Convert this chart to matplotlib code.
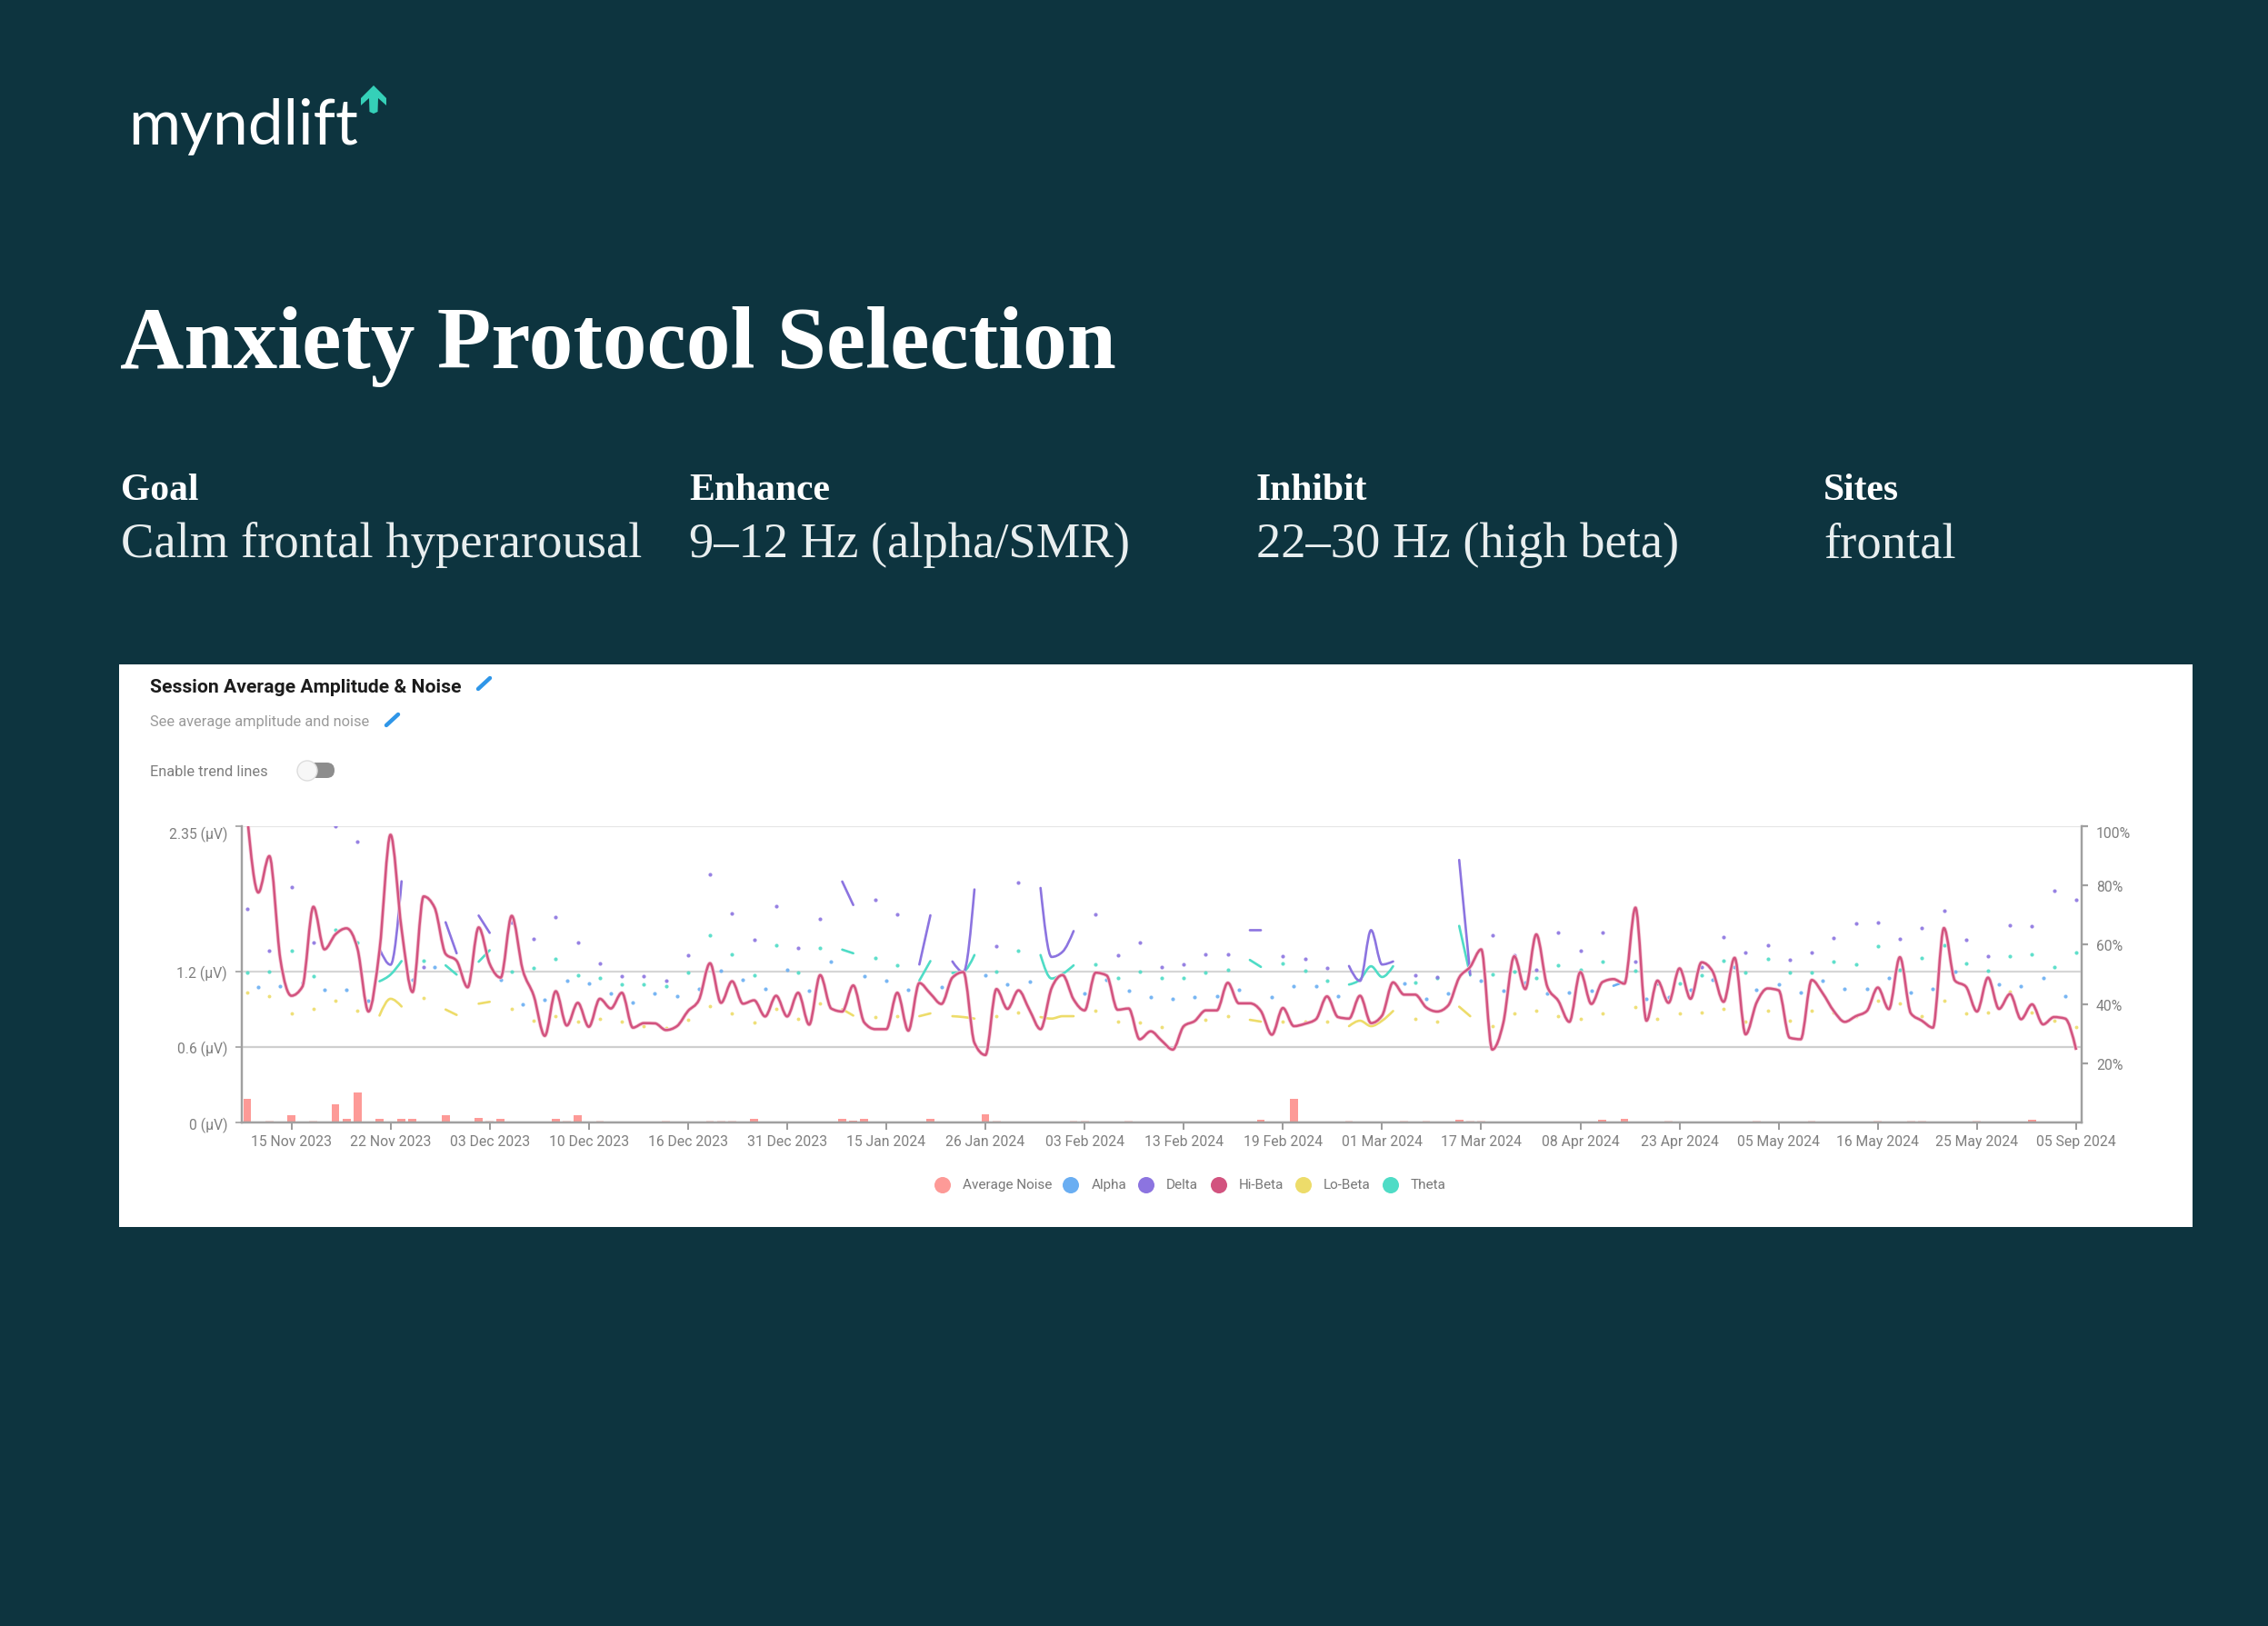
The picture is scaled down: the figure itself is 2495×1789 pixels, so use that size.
import numpy as np
import matplotlib
matplotlib.use("Agg")
import matplotlib.pyplot as plt
from matplotlib.path import Path
from matplotlib.patches import PathPatch, Rectangle, Polygon, FancyBboxPatch, Circle

W, H = 2495, 1790

BG = "#0d343f"
NOISE = "#fd9a97"
ALPHA = "#6aaef2"
DELTA = "#8c74e0"
HIBETA = "#d2537f"
LOBETA = "#eddc6a"
THETA = "#4fdcc6"

date_labels = ["15 Nov 2023", "22 Nov 2023", "03 Dec 2023", "10 Dec 2023", "16 Dec 2023",
               "31 Dec 2023", "15 Jan 2024", "26 Jan 2024", "03 Feb 2024", "13 Feb 2024",
               "19 Feb 2024", "01 Mar 2024", "17 Mar 2024", "08 Apr 2024", "23 Apr 2024",
               "05 May 2024", "16 May 2024", "25 May 2024", "05 Sep 2024"]
date_idx = [4, 13, 22, 31, 40, 49, 58, 67, 76, 85, 94, 103, 112, 121, 130, 139, 148, 157, 166]

left_ticks = [0, 0.6, 1.2, 2.35]
left_labels = ["0 (µV)", "0.6 (µV)", "1.2 (µV)", "2.35 (µV)"]
right_ticks = [20, 40, 60, 80, 100]
right_labels = ["20%", "40%", "60%", "80%", "100%"]

# hi-beta has a value for every session
hibeta = [2.42, 1.824, 2.113, 1.294, 1.005, 1.077, 1.711, 1.373, 1.492, 1.54,
          1.378, 0.88, 1.366, 2.282, 1.535, 1.034, 1.793, 1.704, 1.337, 1.282,
          1.072, 1.547, 1.258, 1.149, 1.639, 1.21, 1.005, 0.687, 1.041, 0.769,
          0.949, 0.759, 0.981, 0.904, 1.029, 0.752, 0.788, 0.786, 0.733, 0.764,
          0.884, 0.973, 1.263, 0.949, 1.12, 0.942, 0.969, 0.841, 1.005, 0.841,
          1.029, 0.776, 1.169, 0.904, 0.88, 1.087, 0.793, 0.74, 0.74, 1.029,
          0.728, 1.106, 1.022, 0.94, 1.149, 1.193, 0.631, 0.535, 1.058, 0.901,
          1.048, 0.892, 0.74, 1.065, 1.169, 0.976, 0.889, 1.188, 1.166, 0.894,
          0.904, 0.66, 0.723, 0.648, 0.578, 0.764, 0.805, 0.889, 0.889, 1.108,
          0.945, 0.945, 0.884, 0.696, 0.908, 0.764, 0.783, 0.819, 1.0, 0.836,
          0.824, 1.005, 0.788, 0.848, 1.111, 1.014, 1.014, 0.913, 0.88, 0.928,
          1.149, 1.234, 1.373, 0.578, 0.788, 1.318, 1.058, 1.492, 1.077, 0.964,
          0.798, 1.193, 0.94, 1.113, 1.137, 1.101, 1.704, 0.807, 1.125, 0.949,
          1.222, 0.981, 1.27, 1.198, 0.957, 1.306, 0.699, 0.952, 1.063, 1.048,
          0.672, 0.66, 1.13, 1.024, 0.884, 0.798, 0.843, 0.884, 1.07, 0.899,
          1.311, 0.865, 0.807, 0.752, 1.542, 1.125, 1.077, 0.88, 1.149, 0.901,
          1.019, 0.819, 0.937, 0.778, 0.836, 0.824, 0.576]

# delta, theta and lo-beta are only there for some sessions
band_idx = [0, 2, 4, 6, 8, 10, 12, 13, 14, 16, 18, 19, 21, 22,
            24, 26, 28, 30, 32, 34, 36, 38, 40, 42, 44, 46, 48, 50, 52,
            54, 55, 57, 59, 61, 62, 64, 65, 66, 68, 70, 72, 73, 74, 75,
            77, 79, 81, 83, 85, 87, 89, 91, 92, 94, 96, 98,
            100, 101, 102, 103, 104, 106, 108, 110, 111,
            113, 115, 117, 119, 121, 123, 126, 128, 130, 132, 134, 136, 138,
            140, 142, 144, 146, 148, 150, 152, 154, 156, 158, 160, 162, 164, 166]

delta = [1.696, 1.366, 1.865, 1.427, 2.349, 2.227, 1.378, 1.251, 1.913, 1.234, 1.588, 1.342, 1.641, 1.504,
         1.583, 1.455, 1.627, 1.427, 1.265, 1.157, 1.157, 1.125, 1.325, 1.969, 1.655, 1.446, 1.718, 1.386, 1.617,
         1.911, 1.725, 1.766, 1.648, 1.253, 1.643, 1.277, 1.193, 1.848, 1.398, 1.906, 1.86, 1.313, 1.354, 1.518,
         1.648, 1.325, 1.427, 1.234, 1.255, 1.335, 1.335, 1.525, 1.525, 1.316, 1.296, 1.224,
         1.241, 1.123, 1.525, 1.253, 1.277, 1.166, 1.154, 2.082, 1.173,
         1.487, 1.325, 1.214, 1.506, 1.366, 1.506, 1.275, 1.113, 1.21, 1.236, 1.467, 1.345, 1.405,
         1.287, 1.345, 1.465, 1.576, 1.586, 1.455, 1.545, 1.677, 1.446, 1.316, 1.566, 1.557, 1.836, 1.766]

theta = [1.186, 1.195, 1.366, 1.164, 1.525, 1.427, 1.12, 1.173, 1.28, 1.284, 1.246, 1.173, 1.275, 1.366,
         1.195, 1.224, 1.296, 1.166, 1.145, 1.094, 1.094, 1.084, 1.186, 1.487, 1.335, 1.166, 1.405, 1.186, 1.386,
         1.371, 1.342, 1.306, 1.246, 1.125, 1.28, 1.186, 1.198, 1.328, 1.195, 1.366, 1.328, 1.142, 1.178, 1.246,
         1.255, 1.145, 1.195, 1.145, 1.145, 1.186, 1.214, 1.289, 1.234, 1.265, 1.205, 1.125,
         1.094, 1.133, 1.239, 1.154, 1.239, 1.113, 1.149, 1.559, 1.166,
         1.173, 1.195, 1.145, 1.246, 1.214, 1.275, 1.205, 1.1, 1.106, 1.166, 1.284, 1.186, 1.294,
         1.186, 1.186, 1.275, 1.255, 1.395, 1.214, 1.306, 1.405, 1.265, 1.205, 1.316, 1.335, 1.234, 1.345]

lobeta = [1.034, 1.005, 0.865, 0.904, 0.966, 0.884, 0.848, 0.981, 0.92, 0.986, 0.896, 0.853, 0.942, 0.957,
          0.904, 0.805, 0.843, 0.802, 0.824, 0.802, 0.764, 0.752, 0.814, 0.923, 0.863, 0.793, 0.904, 0.824, 0.942,
          0.899, 0.848, 0.834, 0.843, 0.843, 0.865, 0.843, 0.836, 0.824, 0.843, 0.875, 0.836, 0.824, 0.843, 0.843,
          0.884, 0.802, 0.793, 0.754, 0.764, 0.812, 0.843, 0.814, 0.8, 0.802, 0.802, 0.802,
          0.764, 0.807, 0.764, 0.807, 0.884, 0.824, 0.802, 0.918, 0.843,
          0.764, 0.863, 0.884, 0.843, 0.824, 0.863, 0.913, 0.824, 0.863, 0.872, 0.904, 0.8, 0.884,
          0.805, 0.884, 0.872, 0.843, 0.966, 0.942, 0.843, 0.966, 0.865, 0.875, 1.041, 0.875, 0.805, 0.754]

alpha_idx = [1, 3, 5, 7, 9, 11, 15, 17, 23, 25, 27, 29, 31, 33, 35, 37, 39, 41, 43, 45, 47, 49, 51, 53,
             56, 58, 60, 63, 67, 69, 71, 76, 78, 80, 82, 84, 86, 88, 90, 93, 95, 97, 99,
             105, 107, 109, 112, 114, 116, 118, 120, 122, 124, 125, 127, 129, 131, 133, 135, 137, 139,
             141, 143, 145, 147, 149, 151, 153, 155, 159, 161, 163, 165]
alpha = [1.075, 1.084, 1.113, 1.055, 1.055, 0.964, 1.133, 1.236, 1.13, 0.935, 0.973, 1.125, 1.104, 1.024, 0.954,
         1.024, 1.002, 1.063, 1.205, 1.135, 1.063, 1.214, 1.043, 1.275,
         1.157, 1.125, 1.053, 1.075, 1.166, 1.094, 1.116, 1.024, 1.135, 1.043, 0.993, 0.983, 0.993, 1.005, 1.053,
         0.995, 1.084, 1.084, 1.005,
         1.104, 0.983, 1.024, 1.123, 1.043, 1.111, 1.024, 1.034, 1.043, 1.084, 1.116, 0.983, 0.993, 1.053, 1.135,
         1.234, 1.053, 1.094,
         1.034, 1.123, 1.063, 1.063, 1.145, 1.034, 1.063, 1.195, 1.094, 1.084, 1.145, 1.005]

noise_idx = [0, 2, 4, 6, 8, 9, 10, 12, 14, 15, 18, 21, 22, 23, 28, 29, 30, 32, 38, 42, 43, 44, 46,
             54, 55, 56, 62, 67, 68, 75, 76, 80, 92, 95, 100, 105, 107, 110, 111, 112,
             123, 125, 129, 137, 142, 148, 151, 152, 157, 162]
noise_pct = [7.9, 0.6, 2.5, 0.6, 6.0, 1.1, 10.0, 1.1, 1.1, 1.1, 2.5, 1.4, 0.6, 1.1, 1.2, 0.5, 2.5, 0.5, 0.5, 0.5, 0.5, 0.5, 1.2,
             1.2, 0.7, 1.2, 1.2, 2.8, 0.5, 0.5, 0.5, 0.5, 1.0, 7.9, 0.5, 0.5, 0.5, 1.0, 0.5, 0.5,
             1.0, 1.3, 0.5, 0.5, 0.5, 0.5, 0.5, 0.5, 0.5, 0.9]
# the very small bars are barely visible in the reference
noise_faint = 0.6

legend_names = ["Average Noise", "Alpha", "Delta", "Hi-Beta", "Lo-Beta", "Theta"]
legend_colors = [NOISE, ALPHA, DELTA, HIBETA, LOBETA, THETA]
legend_dot_x = [1037, 1178, 1261, 1341, 1434, 1530]
legend_text_x = [1059, 1201, 1283, 1363, 1456, 1552]

heads = ["Goal", "Enhance", "Inhibit", "Sites"]
bodies = ["Calm frontal hyperarousal", "9–12 Hz (alpha/SMR)", "22–30 Hz (high beta)", "frontal"]
col_x = [133, 758, 1382, 2006]


def monotone_path(x, y):
    # same idea as d3 curveMonotoneX
    x = np.asarray(x, float)
    y = np.asarray(y, float)
    s = np.diff(y) / np.diff(x)
    t = np.zeros(len(x))
    for i in range(1, len(x) - 1):
        t[i] = (np.sign(s[i - 1]) + np.sign(s[i])) * min(abs(s[i - 1]), abs(s[i]), 0.25 * abs(s[i - 1] + s[i]))
    if len(x) > 2:
        t[0] = (3 * s[0] - t[1]) / 2
        t[-1] = (3 * s[-1] - t[-2]) / 2
    else:
        t[:] = s[0]
    verts = [(x[0], y[0])]
    codes = [Path.MOVETO]
    for i in range(len(x) - 1):
        h = (x[i + 1] - x[i]) / 3
        verts += [(x[i] + h, y[i] + h * t[i]), (x[i + 1] - h, y[i + 1] - h * t[i + 1]), (x[i + 1], y[i + 1])]
        codes += [Path.CURVE4] * 3
    return Path(verts, codes)


def draw_series(ax, idx, vals, color, lw=1.9, dot=9):
    # sessions next to each other get joined, lone sessions are a dot
    idx = list(idx)
    start = 0
    for i in range(1, len(idx) + 1):
        if i == len(idx) or idx[i] != idx[i - 1] + 1:
            if i - start == 1:
                ax.scatter(idx[start], vals[start], s=dot, color=color, linewidths=0, alpha=0.9, zorder=3)
            else:
                ax.add_patch(PathPatch(monotone_path(idx[start:i], vals[start:i]), fill=False,
                                       edgecolor=color, lw=lw, capstyle="round", zorder=3))
            start = i


fig = plt.figure(figsize=(W / 100, H / 100), dpi=100, facecolor=BG)

# page layer, works in pixels of the picture
page = fig.add_axes([0, 0, 1, 1], zorder=0)
page.set_xlim(0, W)
page.set_ylim(H, 0)
page.axis("off")

page.add_patch(Rectangle((131, 732), 2281, 619, facecolor="white", edgecolor="none"))

page.text(141, 159, "myndlift", family="Lato", fontsize=50, color="white", va="baseline")
page.add_patch(Polygon([(411, 95), (425, 109), (425, 117), (416, 109), (415.5, 124), (411, 126),
                        (406.5, 124), (406, 109), (397, 117), (397, 109)], facecolor="#35d0b8", edgecolor="none"))

page.text(132, 405, "Anxiety Protocol Selection", family="Liberation Serif", weight="bold",
          fontsize=70, color="white", va="baseline")
for x, head, body in zip(col_x, heads, bodies):
    page.text(x, 550, head, family="Liberation Serif", weight="bold", fontsize=30, color="white", va="baseline")
    page.text(x, 613, body, family="Liberation Serif", fontsize=39.3, color="#e8eeef", va="baseline")

page.text(165, 762, "Session Average Amplitude & Noise", family="Roboto", weight="bold", fontsize=15.2,
          color="#1c1c1c", va="baseline")
page.text(165, 799, "See average amplitude and noise", family="Roboto", fontsize=11.8, color="#9a9a9a", va="baseline")
page.text(165, 854, "Enable trend lines", family="Roboto", fontsize=11.8, color="#7d7d7d", va="baseline")
for x0, y0 in [(524, 761), (423, 801)]:
    page.plot([x0 + 2, x0 + 15], [y0 - 2, y0 - 14], color="#2f96e8", lw=3.2, solid_capstyle="round")

page.add_patch(FancyBboxPatch((337, 840), 31, 17, boxstyle="round,pad=0,rounding_size=8.5",
                              facecolor="#8d8d8d", edgecolor="none"))
page.add_patch(Circle((338, 849), 11, facecolor="#f7f7f7", edgecolor="#dddddd", lw=1, zorder=3))

for name, color, dx, tx in zip(legend_names, legend_colors, legend_dot_x, legend_text_x):
    page.add_patch(Circle((dx, 1305), 9, facecolor=color, edgecolor="none"))
    page.text(tx, 1304, name, family="Roboto", fontsize=11.0, color="#777777", va="center")

# chart
ax = fig.add_axes([266 / W, 1 - 1236 / H, (2290 - 266) / W, (1236 - 910) / H], zorder=2)
ax2 = ax.twinx()
ax.set_zorder(ax2.get_zorder() + 1)
ax.patch.set_visible(False)
ax2.patch.set_visible(False)

ax.set_xlim(-0.5, 166.5)
ax.set_ylim(0, 2.35)
ax2.set_ylim(0, 100)

bars = ax2.bar(noise_idx, noise_pct, width=0.72, color=NOISE, zorder=1)
for bar, pct in zip(bars, noise_pct):
    if pct <= noise_faint:
        bar.set_alpha(0.35)

for v, c in zip(left_ticks, ["#9a9a9a", "#cfcfcf", "#d6d6d6", "#e6e6e6"]):
    ax.axhline(v, color=c, lw=1.6, zorder=1)

draw_series(ax, alpha_idx, alpha, ALPHA)
draw_series(ax, band_idx, theta, THETA)
draw_series(ax, band_idx, lobeta, LOBETA, dot=8)
draw_series(ax, band_idx, delta, DELTA)

x_all = np.arange(len(hibeta))
ax.add_patch(PathPatch(monotone_path(x_all, hibeta), fill=False, edgecolor="#f5c6d5", lw=3.0, joinstyle="round", zorder=4))
ax.add_patch(PathPatch(monotone_path(x_all, hibeta), fill=False, edgecolor=HIBETA, lw=1.8, joinstyle="round", zorder=4))

ax.set_xticks(date_idx)
ax.set_xticklabels(date_labels)
ax.set_yticks(left_ticks)
ax.set_yticklabels(left_labels)
ax2.set_yticks(right_ticks)
ax2.set_yticklabels(right_labels)

for a in (ax, ax2):
    for side, spine in a.spines.items():
        spine.set_visible(side in ("left", "right", "bottom"))
        spine.set_color("#a0a0a0")
        spine.set_linewidth(1.6)
    for lab in a.get_xticklabels() + a.get_yticklabels():
        lab.set_family("Roboto")
        lab.set_fontsize(11.3)
        lab.set_color("#7f7f7f")

ax.tick_params(axis="x", length=5.5, width=1.2, color="#8a8a8a", pad=4)
ax.tick_params(axis="y", length=5, width=1.2, color="#a0a0a0", pad=6.5)
ax2.tick_params(axis="y", length=5, width=1.6, color="#a0a0a0", pad=6.5)

# top labels hang under their tick
ax.get_yticklabels()[-1].set_va("top")
ax2.get_yticklabels()[-1].set_va("top")

fig.savefig("out.png", dpi=100, facecolor=BG)
